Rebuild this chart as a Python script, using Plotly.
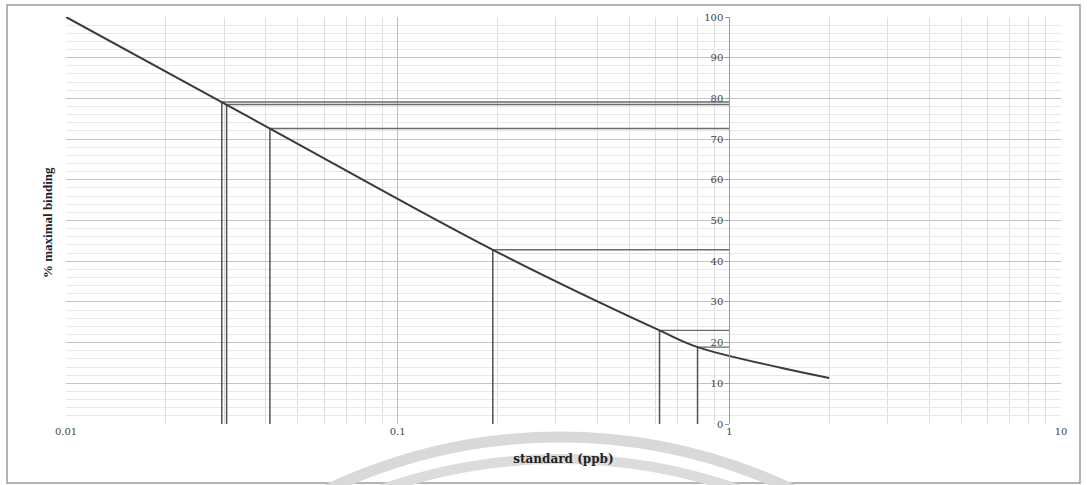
import plotly.graph_objects as go

# ---- data ----
curve_x = [0.01, 0.0412, 0.1936, 0.616, 0.802, 1.43, 2.0]
curve_y = [100, 72.6, 42.8, 23.0, 18.9, 13.8, 11.3]

sample_x = [0.0295, 0.0305, 0.0412, 0.1936, 0.616, 0.802]
sample_y = [79.1, 78.5, 72.6, 42.8, 23.0, 18.9]

axis_cross = 1  # y axis is drawn at x = 1

x_tickvals = [0.01, 0.1, 1, 10]
x_ticktext = ["0.01", "0.1", "1", "10"]
y_tickvals = [0, 10, 20, 30, 40, 50, 60, 70, 80, 90, 100]

# ---- build drop lines from the data ----
vx, vy, hx, hy = [], [], [], []
for x, y in zip(sample_x, sample_y):
    vx += [x, x, None]
    vy += [0, y, None]
    hx += [x, axis_cross, None]
    hy += [y, y, None]

fig = go.Figure()
fig.add_trace(go.Scatter(x=hx, y=hy, mode="lines",
                         line=dict(color="#6a6a6a", width=1.4), hoverinfo="skip"))
fig.add_trace(go.Scatter(x=vx, y=vy, mode="lines",
                         line=dict(color="#505050", width=1.5), hoverinfo="skip"))
fig.add_trace(go.Scatter(x=curve_x, y=curve_y, mode="lines",
                         line=dict(color="#3a3a3a", width=2, shape="spline", smoothing=1.0),
                         hoverinfo="skip"))

serif = "DejaVu Serif"
L, R, T, B = 66, 26, 17, 61
W, H = 1087, 485
pw, ph = W - L - R, H - T - B


def px(x):
    return (x - L) / pw


def py(y):
    return (H - B - y) / ph


shapes = [
    # outer frame
    dict(type="rect", xref="paper", yref="paper",
         x0=px(7), x1=px(1080), y0=py(483), y1=py(5),
         line=dict(color="#9a9a9a", width=1.5), layer="below"),
    # watermark arcs
    dict(type="circle", xref="paper", yref="paper",
         x0=px(20), x1=px(1100), y0=py(1517), y1=py(437),
         line=dict(color="#d9d9d9", width=11), layer="below"),
    dict(type="circle", xref="paper", yref="paper",
         x0=px(20), x1=px(1100), y0=py(1539), y1=py(459),
         line=dict(color="#dcdcdc", width=10), layer="below"),
]

fig.update_layout(
    width=W, height=H,
    margin=dict(l=L, r=R, t=T, b=B),
    paper_bgcolor="white", plot_bgcolor="white",
    showlegend=False,
    shapes=shapes,
    xaxis=dict(
        type="log", range=[-2, 1],
        tickvals=x_tickvals, ticktext=x_ticktext,
        tickfont=dict(family=serif, size=10, color="#444"),
        showgrid=True, gridcolor="#bdbdbd", gridwidth=1,
        minor=dict(dtick="D1", showgrid=True, gridcolor="#dedede", gridwidth=1),
        zeroline=False, showline=False, ticks="",
        title=dict(text="<b>standard (ppb)</b>", standoff=18,
                   font=dict(family=serif, size=12, color="#222")),
    ),
    yaxis=dict(
        range=[0, 100], tickvals=y_tickvals,
        tickfont=dict(family=serif, size=10, color="#444"),
        showgrid=True, gridcolor="#c4c4c4", gridwidth=1,
        minor=dict(dtick=2, showgrid=True, gridcolor="#e8e8e8", gridwidth=1),
        zeroline=False,
        anchor="free", position=2 / 3,
        showline=True, linecolor="#999", linewidth=1,
        ticks="outside", ticklen=4, tickcolor="#999",
    ),
    annotations=[
        dict(text="<b>% maximal binding</b>", xref="paper", yref="paper",
             x=px(47), y=py(223), xanchor="center", yanchor="middle",
             textangle=-90, showarrow=False,
             font=dict(family="Liberation Serif", size=13, color="#222")),
    ],
)

fig.write_html("out.html")
